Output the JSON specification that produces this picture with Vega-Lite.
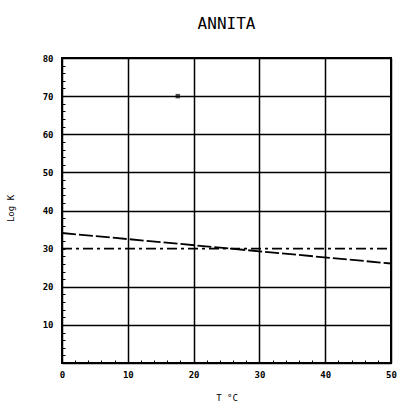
{
  "$schema": "https://vega.github.io/schema/vega-lite/v6.json",
  "autosize": "none",
  "width": 329,
  "height": 305,
  "padding": {"left": 62, "top": 58, "right": 12, "bottom": 52},
  "background": "white",
  "title": {"text": "ANNITA", "font": "DejaVu Sans Mono", "fontSize": 16, "fontWeight": "normal", "color": "black", "offset": 22, "anchor": "middle"},
  "config": {
    "view": {"stroke": "black", "strokeWidth": 2},
    "axis": {"labelFont": "DejaVu Sans Mono", "labelFontWeight": "bold", "labelFontSize": 9, "labelColor": "black", "labelOverlap": false, "labelFlush": false, "titleFont": "DejaVu Sans Mono", "titleFontWeight": "normal", "titleFontSize": 9, "titleColor": "black", "domain": false, "tickColor": "black", "gridColor": "black", "gridWidth": 1.5, "tickCount": 100}
  },
  "datasets": {
    "lines": [
      {"series": "sloped", "t": 0, "logk": 34.1},
      {"series": "sloped", "t": 50, "logk": 26.1},
      {"series": "flat", "t": 0, "logk": 30},
      {"series": "flat", "t": 50, "logk": 30}
    ],
    "pts": [{"t": 17.6, "logk": 70}]
  },
  "layer": [
    {
      "data": {"name": "lines"},
      "mark": {"type": "line", "color": "black", "strokeWidth": 1.8},
      "encoding": {
        "x": {"field": "t", "type": "quantitative", "scale": {"domain": [0, 50], "nice": false},
          "axis": {"title": "T °C", "tickCount": 100, "values": [0,2,4,6,8,10,12,14,16,18,20,22,24,26,28,30,32,34,36,38,40,42,44,46,48,50],
            "labelExpr": "datum.value % 10 === 0 ? datum.value : ''", "tickSize": -3, "labelPadding": 10, "titlePadding": 14,
            "grid": true, "gridOpacity": {"condition": {"test": "datum.value % 10 === 0", "value": 1}, "value": 0}}},
        "y": {"field": "logk", "type": "quantitative", "scale": {"domain": [0, 80], "nice": false},
          "axis": {"title": "Log K", "tickCount": 100, "values": [0,2,4,6,8,10,12,14,16,18,20,22,24,26,28,30,32,34,36,38,40,42,44,46,48,50,52,54,56,58,60,62,64,66,68,70,72,74,76,78,80],
            "labelExpr": "datum.value % 10 === 0 && datum.value > 0 ? datum.value : ''", "tickSize": -3, "labelPadding": 12, "titleX": -47, "titleY": 150,
            "grid": true, "gridOpacity": {"condition": {"test": "datum.value % 10 === 0 && datum.value !== 30", "value": 1}, "value": 0}}},
        "strokeDash": {"field": "series", "type": "nominal", "scale": {"domain": ["sloped", "flat"], "range": [[14, 3], [10, 4, 3, 4]]}, "legend": null}
      }
    },
    {
      "data": {"name": "pts"},
      "mark": {"type": "point", "shape": "square", "filled": true, "color": "black", "size": 20},
      "encoding": {
        "x": {"field": "t", "type": "quantitative"},
        "y": {"field": "logk", "type": "quantitative"}
      }
    }
  ]
}
